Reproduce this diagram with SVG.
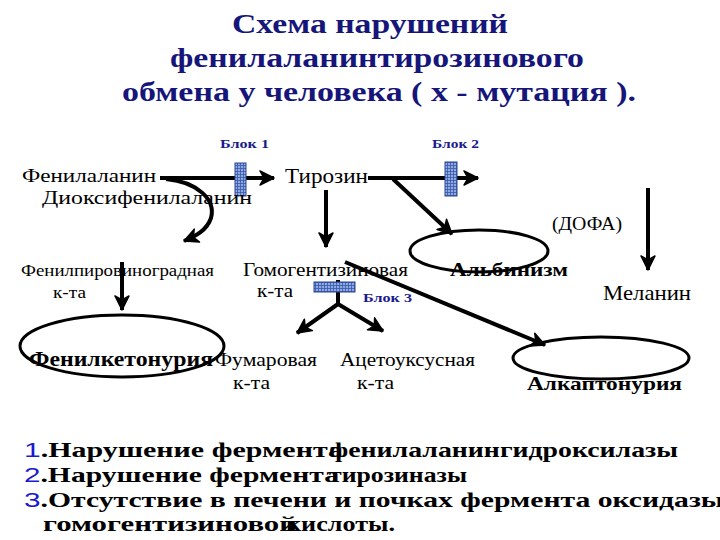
<svg xmlns="http://www.w3.org/2000/svg" width="720" height="540" viewBox="0 0 720 540">
<defs>
<pattern id="chk" width="3" height="3" patternUnits="userSpaceOnUse">
<rect width="3" height="3" fill="#8fa9e2"/>
<path d="M0,0.5H3M0.5,0V3" stroke="#3a58a8" stroke-width="0.8"/>
</pattern>
<marker id="ah" markerUnits="userSpaceOnUse" markerWidth="18" markerHeight="16" refX="15" refY="8" orient="auto" viewBox="0 0 18 16">
<path d="M1,1 L15,8 L1,15 L5,8 z" fill="#000" stroke="#000" stroke-width="1.5" stroke-linejoin="round"/>
</marker>
<style>
.title{font-family:"Liberation Serif","Times New Roman",serif;font-weight:bold;font-size:28px;fill:#16167a}
.blk{font-family:"Liberation Serif","Times New Roman",serif;font-weight:bold;font-size:12px;fill:#1a1a8c}
.t{font-family:"Liberation Serif","Times New Roman",serif;fill:#000}
.b{font-family:"Liberation Serif","Times New Roman",serif;font-weight:bold;fill:#000}
.ln{font-family:"Liberation Serif","Times New Roman",serif;font-weight:bold;font-size:21px;fill:#000}
.num{font-family:"Liberation Sans",Arial,sans-serif;font-weight:normal;fill:#1a1ad0}
.arr{stroke:#000;stroke-width:4;fill:none;marker-end:url(#ah)}
.line{stroke:#000;stroke-width:4;fill:none}
.ell{stroke:#000;stroke-width:3;fill:none}
.block{fill:url(#chk);stroke:#2a4590;stroke-width:1}
</style>
</defs>
<rect width="720" height="540" fill="#fff"/>

<g id="title">
<text class="title" x="232" y="33" textLength="276" lengthAdjust="spacingAndGlyphs">Схема нарушений</text>
<text class="title" x="170" y="67" textLength="414" lengthAdjust="spacingAndGlyphs">фенилаланинтирозинового</text>
<text class="title" x="122" y="101" textLength="514" lengthAdjust="spacingAndGlyphs">обмена у человека ( х - мутация ).</text>
</g>

<g id="connectors">
<path class="arr" d="M160,178 H274"/>
<path class="arr" d="M368,178 H478"/>
<path class="arr" d="M166,179 C198,182 216,200 211,218 C207,230 196,236 184,241"/>
<path class="arr" d="M326,190 V247"/>
<path class="arr" d="M393,179 L452,234"/>
<path class="arr" d="M648,188 V270"/>
<path class="arr" d="M122,262 V310"/>
<path class="line" d="M338,280 V304"/>
<path class="arr" d="M338,304 L297,333"/>
<path class="arr" d="M338,304 L383,331"/>
<path class="arr" d="M345,262 L545,345"/>
</g>

<g id="block1">
<rect class="block" x="235" y="163" width="11" height="33"/>
<text class="blk" x="220" y="148" textLength="49" lengthAdjust="spacingAndGlyphs">Блок 1</text>
</g>
<g id="block2">
<rect class="block" x="445" y="162" width="12" height="34"/>
<text class="blk" x="432" y="148" textLength="47" lengthAdjust="spacingAndGlyphs">Блок 2</text>
</g>
<g id="block3">
<rect class="block" x="314" y="282" width="41" height="10"/>
<text class="blk" x="363" y="302" textLength="49" lengthAdjust="spacingAndGlyphs">Блок 3</text>
</g>

<g id="phenylalanine">
<text class="t" x="22" y="182" font-size="19" textLength="134" lengthAdjust="spacingAndGlyphs">Фенилаланин</text>
</g>
<g id="dopa-name">
<text class="t" x="42" y="204" font-size="19" textLength="210" lengthAdjust="spacingAndGlyphs">Диоксифенилаланин</text>
</g>
<g id="tyrosine">
<text class="t" x="285" y="183" font-size="21" textLength="83" lengthAdjust="spacingAndGlyphs">Тирозин</text>
</g>
<g id="dopa">
<text class="t" x="552" y="230" font-size="19" textLength="70" lengthAdjust="spacingAndGlyphs">(ДОФА)</text>
</g>
<g id="melanin">
<text class="t" x="603" y="300" font-size="21" textLength="88" lengthAdjust="spacingAndGlyphs">Меланин</text>
</g>
<g id="phenylpyruvic">
<text class="t" x="21" y="276" font-size="16" textLength="193" lengthAdjust="spacingAndGlyphs">Фенилпировиноградная</text>
<text class="t" x="53" y="298" font-size="16" textLength="33" lengthAdjust="spacingAndGlyphs">к-та</text>
</g>
<g id="homogentisic">
<text class="t" x="243" y="276" font-size="19" textLength="165" lengthAdjust="spacingAndGlyphs">Гомогентизиновая</text>
<text class="t" x="257" y="297" font-size="19" textLength="36" lengthAdjust="spacingAndGlyphs">к-та</text>
</g>
<g id="albinism">
<ellipse class="ell" cx="479" cy="251" rx="69" ry="21"/>
<text class="b" x="450" y="276" font-size="19" textLength="118" lengthAdjust="spacingAndGlyphs">Альбинизм</text>
</g>
<g id="pku">
<ellipse class="ell" cx="122" cy="346" rx="102" ry="31"/>
<text class="b" x="29" y="366" font-size="20" textLength="184" lengthAdjust="spacingAndGlyphs">Фенилкетонурия</text>
</g>
<g id="fumaric">
<text class="t" x="215" y="366" font-size="19" textLength="102" lengthAdjust="spacingAndGlyphs">Фумаровая</text>
<text class="t" x="233" y="389" font-size="19" textLength="37" lengthAdjust="spacingAndGlyphs">к-та</text>
</g>
<g id="acetoacetic">
<text class="t" x="340" y="366" font-size="19" textLength="135" lengthAdjust="spacingAndGlyphs">Ацетоуксусная</text>
<text class="t" x="357" y="389" font-size="19" textLength="37" lengthAdjust="spacingAndGlyphs">к-та</text>
</g>
<g id="alkaptonuria">
<ellipse class="ell" cx="601" cy="358" rx="88" ry="21"/>
<text class="b" x="527" y="390" font-size="19" textLength="155" lengthAdjust="spacingAndGlyphs">Алкаптонурия</text>
</g>

<g id="legend">
<text class="ln" x="24" y="457" textLength="319" lengthAdjust="spacingAndGlyphs"><tspan class="num">1</tspan>.Нарушение фермента</text>
<text class="ln" x="329" y="457" textLength="349" lengthAdjust="spacingAndGlyphs">фенилаланингидроксилазы</text>
<text class="ln" x="24" y="482" textLength="315" lengthAdjust="spacingAndGlyphs"><tspan class="num">2</tspan>.Нарушение фермента</text>
<text class="ln" x="329" y="482" textLength="138" lengthAdjust="spacingAndGlyphs">тирозиназы</text>
<text class="ln" x="24" y="507" textLength="700" lengthAdjust="spacingAndGlyphs"><tspan class="num">3</tspan>.Отсутствие в печени и почках фермента оксидазы</text>
<text class="ln" x="43" y="531" textLength="254" lengthAdjust="spacingAndGlyphs">гомогентизиновой</text>
<text class="ln" x="286" y="531" textLength="109" lengthAdjust="spacingAndGlyphs">кислоты.</text>
</g>
</svg>
